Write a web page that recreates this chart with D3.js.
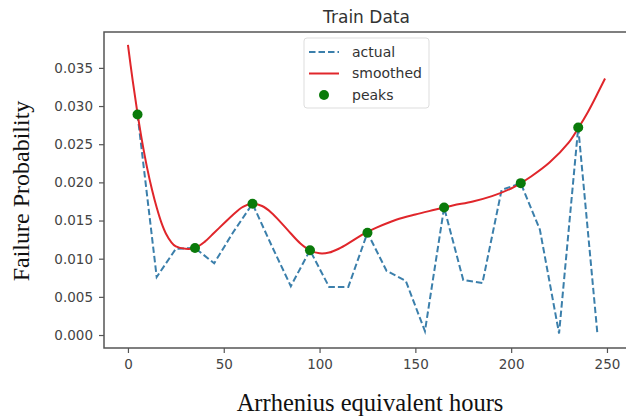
<!DOCTYPE html>
<html>
<head>
<meta charset="utf-8">
<script src="https://cdn.jsdelivr.net/npm/d3@7"></script>
<style>
  body { margin: 0; background: #fff; }
  svg { display: block; }
</style>
</head>
<body>
<div id="chart"></div>
<script>
// actual (dashed) series, sampled every 10 hours
const actualX = [5, 15, 25, 35, 45, 55, 65, 75, 85, 95, 105, 115, 125, 135, 145, 155, 165, 175, 185, 195, 205, 215, 225, 235, 245];
const actualY = [0.0289, 0.0076, 0.0113, 0.0114, 0.0094, 0.0135, 0.0172, 0.0117, 0.0064, 0.0111, 0.0063, 0.0063, 0.0134, 0.0084, 0.0071, 0.0005, 0.0167, 0.0072, 0.0068, 0.0190, 0.0199, 0.0138, 0.0002, 0.0272, 0.0002];

// smoothed curve
const smoothX = [0, 2.5, 5, 7.5, 10, 12.5, 15, 17.5, 20, 22.5, 25, 30, 35, 40, 45, 50, 55, 60, 65, 70, 75, 80, 85, 90, 95, 100, 105, 110, 115, 120, 125, 130, 140, 150, 160, 165, 170, 180, 190, 200, 205, 210, 220, 230, 235, 240, 245, 249];
const smoothY = [0.0380, 0.0333, 0.0290, 0.0252, 0.0219, 0.0191, 0.0167, 0.0147, 0.0132, 0.0122, 0.0116, 0.0113, 0.0114, 0.0122, 0.0134, 0.0146, 0.0158, 0.0168, 0.0172, 0.0169, 0.0160, 0.0147, 0.0133, 0.0120, 0.0111, 0.0107, 0.0108, 0.0113, 0.0120, 0.0128, 0.0135, 0.0141, 0.0151, 0.0158, 0.0164, 0.0167, 0.0170, 0.0175, 0.0182, 0.0192, 0.0199, 0.0207, 0.0226, 0.0252, 0.0271, 0.0292, 0.0316, 0.0336];

// peaks
const peakX = [5, 35, 65, 95, 125, 165, 205, 235];
const peakY = [0.0289, 0.0114, 0.0172, 0.0111, 0.0134, 0.0167, 0.0199, 0.0272];

const xTicks = [0, 50, 100, 150, 200, 250];
const yTicks = [0, 0.005, 0.010, 0.015, 0.020, 0.025, 0.030, 0.035];
const legendLabels = ["actual", "smoothed", "peaks"];

const width = 626, height = 420;
const plotLeft = 104, plotTop = 32, plotRight = 629, plotBottom = 348;

const svg = d3.select("#chart").append("svg")
  .attr("width", width)
  .attr("height", height);

const x = d3.scaleLinear().domain([-12.5, 261.5]).range([plotLeft, plotRight]);
const y = d3.scaleLinear().domain([-0.0017, 0.0397]).range([plotBottom, plotTop]);

const tickFont = "'DejaVu Sans', sans-serif";
const axisColor = "#555";

// axes
const xAxis = svg.append("g")
  .attr("transform", `translate(0,${plotBottom})`)
  .call(d3.axisBottom(x).tickValues(xTicks).tickSize(5).tickPadding(6).tickFormat(d3.format("d")));
const yAxis = svg.append("g")
  .attr("transform", `translate(${plotLeft},0)`)
  .call(d3.axisLeft(y).tickValues(yTicks).tickSize(5).tickPadding(6).tickFormat(d3.format(".3f")));

[xAxis, yAxis].forEach(a => {
  a.select(".domain").remove();
  a.selectAll(".tick line").attr("stroke", axisColor).attr("stroke-width", 1.2);
  a.selectAll(".tick text")
    .attr("fill", "#444")
    .style("font-family", tickFont)
    .style("font-size", "13.5px");
});

// spines
svg.append("rect")
  .attr("x", plotLeft).attr("y", plotTop)
  .attr("width", plotRight - plotLeft).attr("height", plotBottom - plotTop)
  .attr("fill", "none")
  .attr("stroke", axisColor)
  .attr("stroke-width", 1.5);

const actual = actualX.map((d, i) => [d, actualY[i]]);
const smooth = smoothX.map((d, i) => [d, smoothY[i]]);
const peaks = peakX.map((d, i) => [d, peakY[i]]);

const line = d3.line().x(d => x(d[0])).y(d => y(d[1]));

svg.append("path")
  .datum(actual)
  .attr("d", line)
  .attr("fill", "none")
  .attr("stroke", "#3b7fab")
  .attr("stroke-width", 2)
  .attr("stroke-dasharray", "6.5,3");

svg.append("path")
  .datum(smooth)
  .attr("d", line.curve(d3.curveCatmullRom))
  .attr("fill", "none")
  .attr("stroke", "#e0262b")
  .attr("stroke-width", 2);

svg.selectAll(".peak")
  .data(peaks)
  .enter()
  .append("circle")
  .attr("class", "peak")
  .attr("cx", d => x(d[0]))
  .attr("cy", d => y(d[1]))
  .attr("r", 5)
  .attr("fill", "#0a7a0a");

// title
svg.append("text")
  .attr("x", (plotLeft + plotRight) / 2)
  .attr("y", 23)
  .attr("text-anchor", "middle")
  .style("font-family", tickFont)
  .style("font-size", "17px")
  .attr("fill", "#333")
  .text("Train Data");

// legend
const lg = svg.append("g").attr("transform", "translate(304,38)");
lg.append("rect")
  .attr("width", 125).attr("height", 70)
  .attr("rx", 3)
  .attr("fill", "#fff")
  .attr("stroke", "#ddd");

legendLabels.forEach((name, i) => {
  const cy = 14 + i * 21.5;
  if (i === 0) {
    lg.append("line").attr("x1", 5).attr("x2", 35).attr("y1", cy).attr("y2", cy)
      .attr("stroke", "#3b7fab").attr("stroke-width", 2).attr("stroke-dasharray", "6.5,3");
  } else if (i === 1) {
    lg.append("line").attr("x1", 5).attr("x2", 35).attr("y1", cy).attr("y2", cy)
      .attr("stroke", "#e0262b").attr("stroke-width", 2);
  } else {
    lg.append("circle").attr("cx", 20).attr("cy", cy).attr("r", 5).attr("fill", "#0a7a0a");
  }
  lg.append("text")
    .attr("x", 48).attr("y", cy)
    .attr("dy", "0.35em")
    .style("font-family", tickFont)
    .style("font-size", "14px")
    .attr("fill", "#333")
    .text(name);
});

// axis labels
svg.append("text")
  .attr("x", 370)
  .attr("y", 411)
  .attr("text-anchor", "middle")
  .style("font-family", "'Liberation Serif', 'Times New Roman', serif")
  .style("font-size", "24.5px")
  .attr("fill", "#111")
  .text("Arrhenius equivalent hours");

svg.append("text")
  .attr("transform", "translate(29,191) rotate(-90)")
  .attr("text-anchor", "middle")
  .style("font-family", "'Liberation Serif', 'Times New Roman', serif")
  .style("font-size", "24px")
  .attr("fill", "#111")
  .text("Failure Probability");
</script>
</body>
</html>
